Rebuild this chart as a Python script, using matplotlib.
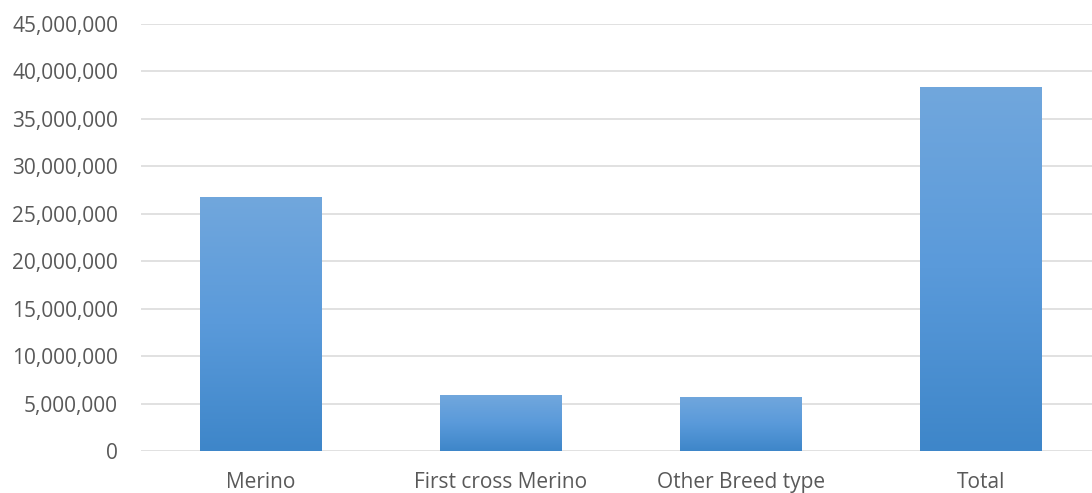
import numpy as np
import matplotlib
matplotlib.use('Agg')
import matplotlib.pyplot as plt
from matplotlib.ticker import FuncFormatter
from matplotlib.colors import LinearSegmentedColormap

# data
categories = ['Merino', 'First cross Merino', 'Other Breed type', 'Total']
sheep = [26700000, 5850000, 5700000, 38350000]

plt.rcParams['font.family'] = ['Open Sans', 'DejaVu Sans']

fig = plt.figure(figsize=(10.92, 4.93), dpi=100)
ax = fig.add_axes([141 / 1092, 42 / 493, 960 / 1092, 427.3 / 493])

x = np.arange(len(categories))
bars = ax.bar(x, sheep, width=0.505, color='#5B9BD5', zorder=2)

# vertical gradient on each bar, lighter at the top
grad = LinearSegmentedColormap.from_list('g', ['#3E86C9', '#5A9ADA', '#71A7DD'])
for b in bars:
    x0, w, h = b.get_x(), b.get_width(), b.get_height()
    img = ax.imshow(np.linspace(0, 1, 256).reshape(-1, 1), cmap=grad, origin='lower',
                    extent=[x0, x0 + w, 0, h], aspect='auto', zorder=3)
    img.set_clip_path(b)

ax.set_xlim(-0.5, 3.5)
ax.set_ylim(0, 45000000)
ax.set_yticks(np.arange(0, 45000001, 5000000))
ax.yaxis.set_major_formatter(FuncFormatter(lambda v, p: f'{int(v):,}'))
ax.set_xticks(x)
ax.set_xticklabels(categories)

ax.grid(axis='y', color='#DCDCDC', linewidth=1.2, zorder=0)
for s in ax.spines.values():
    s.set_visible(False)
ax.tick_params(axis='both', length=0, labelsize=15, labelcolor='#595959')
ax.tick_params(axis='y', pad=16.5)
ax.tick_params(axis='x', pad=15)

fig.savefig('out.png', dpi=100)
